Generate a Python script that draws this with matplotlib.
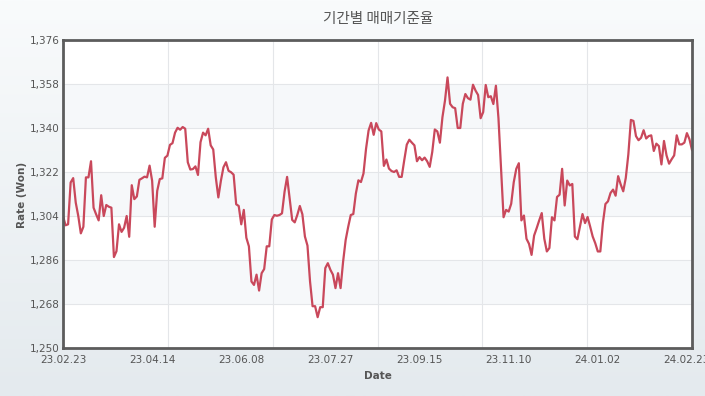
import numpy as np
import matplotlib.pyplot as plt
from matplotlib.colors import LinearSegmentedColormap

# daily base rate (KRW)
rate = [
    1304.0, 1300.2, 1300.6, 1317.7, 1319.5, 1309.5, 1304.0, 1296.9, 1299.6, 1319.8,
    1319.8, 1326.4, 1307.4, 1304.7, 1302.2, 1312.5, 1304.0, 1308.5, 1307.8, 1307.4,
    1287.2, 1289.6, 1300.6, 1297.5, 1299.2, 1304.0, 1295.5, 1316.6, 1310.9, 1312.0,
    1318.8, 1319.4, 1320.1, 1319.8, 1324.6, 1318.4, 1299.6, 1314.3, 1319.1, 1319.4,
    1327.8, 1328.7,
    1333.1, 1333.8, 1338.1, 1340.1, 1339.3, 1340.4, 1339.7, 1326.0, 1323.0, 1323.2,
    1324.3, 1320.8, 1334.2, 1338.1, 1337.0, 1339.7, 1332.9, 1331.2, 1319.8, 1311.6,
    1318.4, 1323.9, 1326.0, 1322.5, 1321.9, 1320.9, 1308.8, 1308.1, 1300.6, 1306.5,
    1295.1, 1291.6, 1277.2, 1275.8, 1280.0, 1273.5, 1280.6, 1282.3, 1291.6, 1291.6,
    1302.6,
    1304.4, 1304.1, 1304.4, 1305.1, 1313.9, 1320.0, 1311.2, 1302.4, 1301.4, 1304.4,
    1308.1, 1304.7, 1295.6, 1291.9, 1277.3, 1267.1, 1267.1, 1262.6, 1266.7, 1266.7,
    1282.7, 1284.7, 1282.0, 1280.0, 1274.5, 1280.6, 1274.5, 1285.4, 1294.2, 1299.6,
    1304.4, 1304.8, 1313.2, 1318.6, 1317.9, 1321.4, 1331.5, 1339.0, 1342.1, 1337.2,
    1342.0, 1339.4, 1338.6,
    1324.5, 1327.1, 1323.4, 1322.4, 1322.0, 1322.7, 1320.0, 1320.0, 1326.8, 1333.2,
    1335.2, 1334.0, 1332.9, 1326.4, 1328.1, 1326.8, 1327.9, 1326.4, 1324.1, 1330.2,
    1339.4, 1338.6, 1334.0, 1344.4, 1351.2, 1360.7, 1349.9, 1348.5, 1348.1, 1340.0,
    1340.0, 1349.9, 1353.9, 1352.2, 1351.6, 1357.7, 1355.3, 1353.5, 1344.0, 1346.5,
    1357.6,
    1352.6, 1353.0, 1349.8, 1357.3, 1344.0, 1324.0, 1303.5, 1306.5, 1305.8, 1309.0,
    1317.8, 1323.3, 1325.6, 1302.2, 1304.2, 1294.7, 1292.6, 1288.1, 1296.0, 1299.0,
    1302.2, 1305.2, 1294.7, 1289.5, 1290.9, 1303.5, 1302.2, 1311.8, 1312.7, 1323.3,
    1308.3, 1318.5, 1316.5, 1317.1, 1295.6, 1294.5, 1299.7, 1304.8, 1301.1, 1303.6,
    1299.7, 1295.6, 1292.9, 1289.5, 1289.5, 1301.1, 1308.9, 1310.0, 1313.4, 1314.8,
    1312.3, 1320.3, 1316.9, 1314.1, 1319.6, 1329.2, 1343.3, 1342.9, 1336.7, 1335.0,
    1336.0, 1339.1, 1335.7, 1336.7, 1337.0, 1330.6, 1333.6, 1332.6, 1325.1, 1334.7,
    1328.8, 1325.4, 1327.2, 1328.8, 1337.0, 1333.3, 1333.3, 1334.0, 1337.9, 1335.4,
    1331.0,
]
tick_labels = ['23.02.23', '23.04.14', '23.06.08', '23.07.27', '23.09.15',
               '23.11.10', '24.01.02', '24.02.23']
label_step = 35
y_ticks = list(range(1250, 1377, 18))

W, H = 705, 396
fig = plt.figure(figsize=(W / 100, H / 100), dpi=100)

# soft gradient background
bg = fig.add_axes([0, 0, 1, 1], zorder=-1)
grad = np.linspace(0, 1, 256).reshape(-1, 1)
bg.imshow(grad, aspect='auto', extent=[0, 1, 0, 1],
          cmap=LinearSegmentedColormap.from_list('bg', ['#f9fbfc', '#e4eaee']))
bg.axis('off')

ax = fig.add_axes([63 / W, 1 - 348 / H, 629 / W, 308 / H])
ax.set_facecolor('white')

# alternating bands
for lo, hi in zip(y_ticks[1::2], y_ticks[2::2]):
    ax.axhspan(lo, hi, color='#f6f8fa', zorder=0, lw=0)

x = np.arange(len(rate))
ax.plot(x, rate, color='#c9485b', lw=1.6, zorder=3)

ax.set_xlim(0, len(rate) - 1)
ax.set_ylim(y_ticks[0], y_ticks[-1])
ax.set_yticks(y_ticks)
ax.set_yticklabels([f'{v:,}' for v in y_ticks])
ax.set_xticks(x[::label_step][:len(tick_labels)])
ax.set_xticklabels(tick_labels)
ax.set_xticks(np.linspace(0, len(rate) - 1, 7)[1:-1], minor=True)

ax.grid(which='major', axis='y', color='#e4e6e9', lw=0.8, zorder=1)
ax.grid(which='minor', axis='x', color='#e4e6e9', lw=0.8, zorder=1)
ax.set_axisbelow(True)
ax.tick_params(which='both', length=0, labelsize=7.5, labelcolor='#555555', pad=2.5)
ax.tick_params(axis='x', pad=5)

for s in ax.spines.values():
    s.set_color('#5c5c5c')
    s.set_linewidth(2)
    s.set_zorder(5)

fig.text(378 / W, 1 - 19 / H, '기간별 매매기준율', ha='center', va='center',
         fontsize=10.5, color='#555555', family=['Noto Sans CJK KR', 'DejaVu Sans'])
fig.text(22 / W, 1 - 195 / H, 'Rate (Won)', rotation=90, ha='center', va='center',
         fontsize=7.5, fontweight='bold', color='#555555')
fig.text(378 / W, 1 - 376 / H, 'Date', ha='center', va='center',
         fontsize=7.5, fontweight='bold', color='#555555')

fig.savefig('out.png', dpi=100)
